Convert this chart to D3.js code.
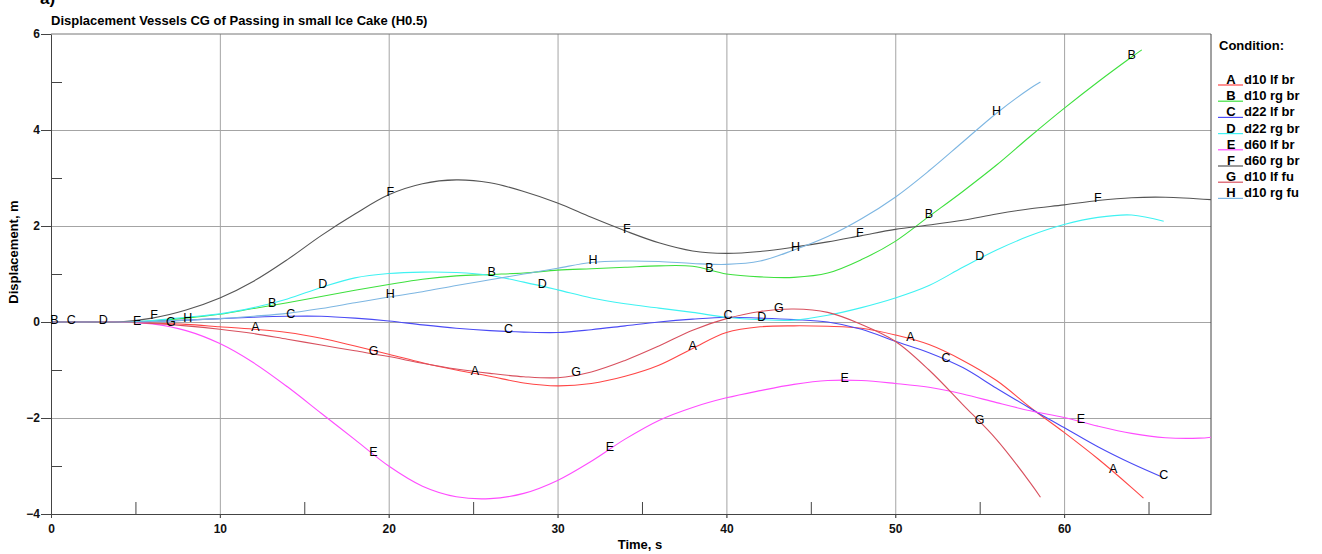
<html>
<head>
    <meta charset="UTF-8">
    <title>Displacement Vessels CG</title>
    <script src="https://d3js.org/d3.v7.min.js"></script>
    <style>
        body { margin: 0; background: #fff; }
        text { font-family: Arial, "Liberation Sans", sans-serif; }
    </style>
</head>
<body>
    <svg width="1322" height="554"></svg>
    <script>
        // series: [time s, displacement m]
        var serA = [[0,0],[2,0],[4,0],[6,-0.02],[8,-0.05],[10,-0.1],[12,-0.15],[14,-0.22],[16,-0.34],[18,-0.5],[20,-0.67],[22,-0.85],[24,-1.0],[26,-1.13],[28,-1.27],[30,-1.33],[32,-1.28],[34,-1.13],[36,-0.9],[38,-0.55],[40,-0.22],[42,-0.1],[44,-0.08],[46,-0.09],[48,-0.13],[50,-0.27],[52,-0.47],[54,-0.8],[56,-1.22],[58,-1.78],[60,-2.3],[62,-2.85],[64,-3.45],[64.7,-3.67]];
        var serB = [[0,0],[2,0],[4,0],[6,0.02],[8,0.08],[10,0.16],[12,0.28],[14,0.4],[16,0.53],[18,0.66],[20,0.78],[22,0.89],[24,0.96],[26,0.99],[28,1.02],[30,1.08],[32,1.11],[34,1.14],[36,1.17],[38,1.16],[40,1.0],[42,0.94],[44,0.93],[46,1.02],[48,1.3],[50,1.68],[52,2.2],[54,2.72],[56,3.27],[58,3.87],[60,4.45],[62,5.0],[64,5.52],[64.6,5.67]];
        var serC = [[0,0],[2,0],[4,0],[6,0.01],[8,0.04],[10,0.07],[12,0.1],[14,0.12],[16,0.12],[18,0.08],[20,0.02],[22,-0.06],[24,-0.13],[26,-0.18],[28,-0.21],[30,-0.22],[32,-0.16],[34,-0.08],[36,0],[38,0.06],[40,0.1],[42,0.08],[44,0.05],[46,0],[48,-0.15],[50,-0.4],[52,-0.64],[54,-0.95],[56,-1.38],[58,-1.8],[60,-2.2],[62,-2.6],[64,-2.95],[65.8,-3.23]];
        var serD = [[0,0],[2,0],[4,0],[6,0.03],[8,0.1],[10,0.17],[12,0.3],[14,0.48],[16,0.72],[18,0.92],[20,1.01],[22,1.04],[24,1.03],[26,0.97],[28,0.83],[30,0.67],[32,0.5],[34,0.38],[36,0.29],[38,0.2],[40,0.1],[42,0.05],[44,0.04],[46,0.14],[48,0.3],[50,0.5],[52,0.76],[54,1.14],[56,1.5],[58,1.8],[60,2.03],[62,2.18],[64,2.23],[65.9,2.1]];
        var serE = [[0,0],[2,0],[4,0],[6,-0.04],[8,-0.18],[10,-0.45],[12,-0.85],[14,-1.35],[16,-1.9],[18,-2.45],[20,-3.0],[22,-3.42],[24,-3.64],[26,-3.68],[28,-3.57],[30,-3.3],[32,-2.9],[34,-2.44],[36,-2.05],[38,-1.78],[40,-1.58],[42,-1.43],[44,-1.3],[46,-1.22],[48,-1.22],[50,-1.28],[52,-1.36],[54,-1.5],[56,-1.68],[58,-1.85],[60,-1.99],[62,-2.17],[64,-2.32],[66,-2.41],[68,-2.42],[68.7,-2.4]];
        var serF = [[0,0],[2,0],[4,0],[6,0.08],[8,0.25],[10,0.5],[12,0.85],[14,1.3],[16,1.8],[18,2.25],[20,2.65],[22,2.88],[24,2.96],[26,2.9],[28,2.72],[30,2.48],[32,2.18],[34,1.9],[36,1.65],[38,1.48],[40,1.43],[42,1.47],[44,1.56],[46,1.67],[48,1.8],[50,1.93],[52,2.02],[54,2.12],[56,2.25],[58,2.36],[60,2.44],[62,2.53],[64,2.59],[66,2.6],[68.7,2.55]];
        var serG = [[0,0],[2,0],[4,0],[6,-0.03],[8,-0.08],[10,-0.15],[12,-0.24],[14,-0.36],[16,-0.48],[18,-0.6],[20,-0.72],[22,-0.86],[24,-0.98],[26,-1.07],[28,-1.14],[30,-1.16],[32,-1.04],[34,-0.8],[36,-0.5],[38,-0.17],[40,0.07],[42,0.22],[44,0.27],[46,0.2],[48,-0.05],[50,-0.4],[52,-1.0],[54,-1.72],[56,-2.45],[58,-3.35],[58.6,-3.65]];
        var serH = [[0,0],[2,0],[4,0],[6,0.01],[8,0.04],[10,0.07],[12,0.12],[14,0.18],[16,0.28],[18,0.4],[20,0.52],[22,0.63],[24,0.76],[26,0.88],[28,1.0],[30,1.12],[32,1.24],[34,1.27],[36,1.26],[38,1.22],[40,1.2],[42,1.27],[44,1.5],[46,1.78],[48,2.15],[50,2.6],[52,3.15],[54,3.75],[56,4.35],[58,4.87],[58.6,5.0]];

        // times where the curve letters sit
        var markA = [12.1, 25.1, 38.0, 50.9, 62.9];
        var markB = [0.2, 13.1, 26.1, 39.0, 52.0, 64.0];
        var markC = [1.2, 14.2, 27.1, 40.1, 53.0, 65.9];
        var markD = [3.1, 16.1, 29.1, 42.1, 55.0];
        var markE = [5.1, 19.1, 33.1, 47.0, 61.0];
        var markF = [6.1, 20.1, 34.1, 47.9, 62.0];
        var markG = [7.1, 19.1, 31.1, 43.1, 55.0];
        var markH = [8.1, 20.1, 32.1, 44.1, 56.0];

        var letters = ['A', 'B', 'C', 'D', 'E', 'F', 'G', 'H'];
        var names = ['d10 lf br', 'd10 rg br', 'd22 lf br', 'd22 rg br', 'd60 lf br', 'd60 rg br', 'd10 lf fu', 'd10 rg fu'];
        var colors = ['#ff4646', '#3ee03e', '#4b4bf5', '#3ff2f2', '#ff4cff', '#555555', '#d8505e', '#7db6e2'];
        var xMajor = [0, 10, 20, 30, 40, 50, 60];
        var xMinor = [5, 15, 25, 35, 45, 55, 65];
        var yMajor = [-4, -2, 0, 2, 4, 6];
        var yMinor = [-3, -1, 1, 3, 5];

        var allSeries = [serA, serB, serC, serD, serE, serF, serG, serH];
        var allMarks = [markA, markB, markC, markD, markE, markF, markG, markH];

        var svg = d3.select('svg'),
            m = { left: 51, right: 1211, top: 34, bottom: 514 };

        var x = d3.scaleLinear().domain([0, 68.7]).range([m.left, m.right]);
        var y = d3.scaleLinear().domain([-4, 6]).range([m.bottom, m.top]);

        // grid
        svg.append('g').attr('transform', 'translate(0,' + (m.bottom + 4) + ')')
            .call(d3.axisBottom(x).tickValues(xMajor.slice(1)).tickSize(-(m.bottom + 4 - m.top)).tickFormat('').tickSizeOuter(0))
            .call(g => g.select('.domain').remove())
            .call(g => g.selectAll('line').attr('stroke', '#a4a4a4'));
        svg.append('g').attr('transform', 'translate(' + m.left + ',0)')
            .call(d3.axisLeft(y).tickValues([-2, 0, 2, 4]).tickSize(-(m.right - m.left)).tickFormat('').tickSizeOuter(0))
            .call(g => g.select('.domain').remove())
            .call(g => g.selectAll('line').attr('stroke', '#a4a4a4'));

        // frame
        svg.append('line').attr('x1', m.left).attr('x2', m.right).attr('y1', m.top).attr('y2', m.top).attr('stroke', '#777');
        svg.append('line').attr('x1', m.right).attr('x2', m.right).attr('y1', m.top).attr('y2', m.bottom).attr('stroke', '#444');

        // axes
        var xAxis = svg.append('g').attr('class', 'ax').attr('transform', 'translate(0,' + m.bottom + ')')
            .call(d3.axisBottom(x).tickValues(xMajor).tickSize(4).tickPadding(6).tickSizeOuter(0));
        svg.append('g').attr('class', 'ax').attr('transform', 'translate(0,' + m.bottom + ')')
            .call(d3.axisBottom(x).tickValues(xMinor).tickSize(-12).tickFormat('').tickSizeOuter(0))
            .call(g => g.select('.domain').remove());
        var yAxis = svg.append('g').attr('class', 'ax').attr('transform', 'translate(' + m.left + ',0)')
            .call(d3.axisLeft(y).tickValues(yMajor).tickSize(10).tickPadding(1).tickSizeOuter(0));
        svg.append('g').attr('class', 'ax').attr('transform', 'translate(' + m.left + ',0)')
            .call(d3.axisLeft(y).tickValues(yMinor).tickSize(-11).tickFormat('').tickSizeOuter(0))
            .call(g => g.select('.domain').remove());

        svg.selectAll('.ax .domain, .ax .tick line').attr('stroke', '#444');
        [xAxis, yAxis].forEach(a => a.selectAll('text')
            .attr('font-size', 12).attr('font-weight', 'bold').attr('fill', '#111')
            .style('font-family', 'Arial, "Liberation Sans", sans-serif'));

        // curves
        var line = d3.line().x(d => x(d[0])).y(d => y(d[1])).curve(d3.curveCatmullRom.alpha(0.5));
        var plot = svg.append('g');
        allSeries.forEach(function(s, i) {
            plot.append('path').datum(s)
                .attr('fill', 'none')
                .attr('stroke', colors[i])
                .attr('stroke-width', 1.1)
                .attr('d', line);
        });

        // letters on curves
        var bis = d3.bisector(d => d[0]).left;
        function valueAt(s, t) {
            var i = Math.max(1, Math.min(s.length - 1, bis(s, t)));
            var a = s[i - 1], b = s[i];
            return a[1] + (b[1] - a[1]) * (t - a[0]) / (b[0] - a[0]);
        }
        allMarks.forEach(function(mk, i) {
            plot.selectAll(null).data(mk).enter().append('text')
                .attr('x', t => x(t))
                .attr('y', t => y(valueAt(allSeries[i], t)) - 3)
                .attr('dy', '0.36em')
                .attr('text-anchor', 'middle')
                .attr('font-size', 12.5)
                .attr('fill', '#000')
                .text(letters[i]);
        });

        // titles
        svg.append('text').attr('x', 40).attr('y', 4).attr('font-size', 17).attr('font-weight', 'bold').text('a)');
        svg.append('text').attr('x', m.left).attr('y', 25).attr('font-size', 13).attr('font-weight', 'bold')
            .text('Displacement Vessels CG of Passing in small Ice Cake (H0.5)');
        svg.append('text').attr('x', 640).attr('y', 549).attr('text-anchor', 'middle')
            .attr('font-size', 13).attr('font-weight', 'bold').text('Time, s');
        svg.append('text').attr('transform', 'translate(18,252) rotate(-90)').attr('text-anchor', 'middle')
            .attr('font-size', 13).attr('font-weight', 'bold').text('Displacement, m');

        // legend
        var legend = svg.append('g');
        legend.append('text').attr('x', 1219).attr('y', 50).attr('font-size', 13).attr('font-weight', 'bold').text('Condition:');
        var item = legend.selectAll('g.item').data(letters).enter().append('g')
            .attr('class', 'item')
            .attr('transform', (d, i) => 'translate(0,' + (84 + i * 16.2) + ')');
        item.append('line').attr('x1', 1218).attr('x2', 1243).attr('y1', 1).attr('y2', 1)
            .attr('stroke', (d, i) => colors[i]).attr('stroke-width', 1.2);
        item.append('text').attr('x', 1231).attr('text-anchor', 'middle')
            .attr('font-size', 13).attr('font-weight', 'bold').text(d => d);
        item.append('text').attr('x', 1244)
            .attr('font-size', 13).attr('font-weight', 'bold').text((d, i) => names[i]);
    </script>
</body>
</html>
